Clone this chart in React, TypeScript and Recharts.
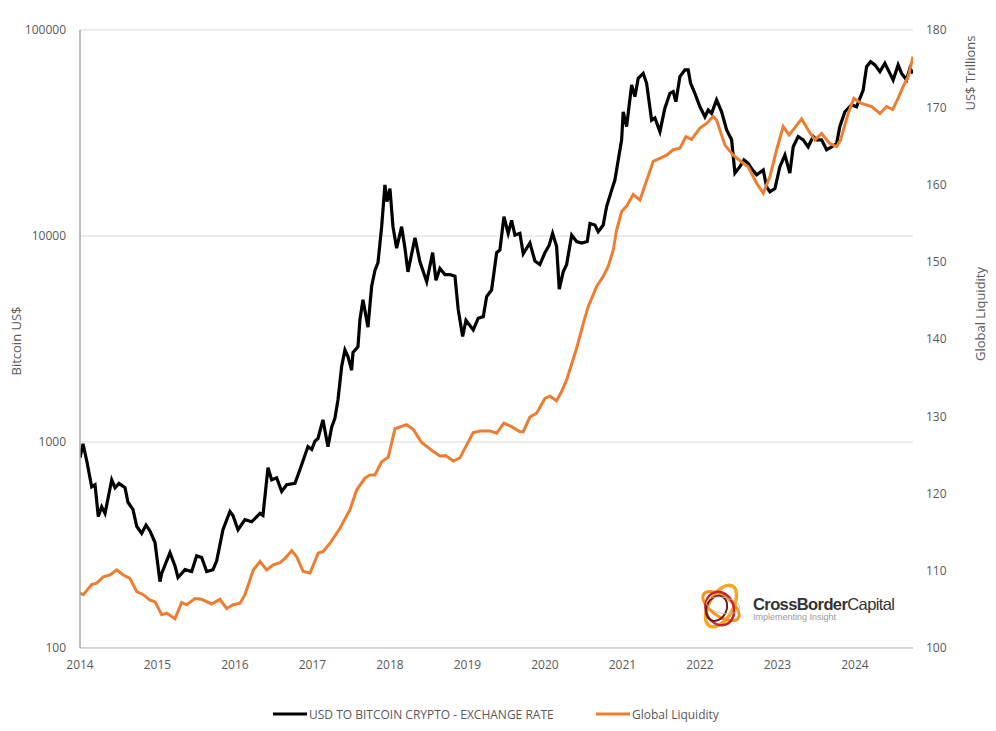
import React from "react";
import { LineChart, Line, XAxis, YAxis, CartesianGrid } from "recharts";

// Bitcoin price (US$) : [year, value]
const btcSeries: [number, number][] = [
  [2014.0, 840], [2014.039, 980], [2014.09, 800], [2014.151, 605], [2014.194, 620], [2014.236, 435],
  [2014.28, 485], [2014.323, 450], [2014.409, 655], [2014.452, 600], [2014.503, 630], [2014.581, 600],
  [2014.619, 510], [2014.684, 470], [2014.732, 390], [2014.796, 360], [2014.852, 395], [2014.903, 370],
  [2014.968, 325], [2015.032, 210], [2015.054, 230], [2015.161, 290], [2015.226, 250], [2015.265, 220],
  [2015.355, 240], [2015.441, 235], [2015.506, 280], [2015.57, 275], [2015.635, 235], [2015.716, 240],
  [2015.764, 265], [2015.845, 375], [2015.935, 460], [2015.974, 440], [2016.039, 375], [2016.129, 420],
  [2016.215, 410], [2016.323, 450], [2016.361, 440], [2016.426, 750], [2016.474, 655], [2016.538, 670],
  [2016.603, 575], [2016.667, 620], [2016.774, 630], [2016.839, 735], [2016.942, 950], [2016.99, 920],
  [2017.032, 1010], [2017.071, 1040], [2017.135, 1280], [2017.2, 950], [2017.248, 1180], [2017.29, 1305],
  [2017.329, 1600], [2017.377, 2330], [2017.419, 2800], [2017.458, 2600], [2017.506, 2230], [2017.523, 2720],
  [2017.587, 2900], [2017.613, 3930], [2017.652, 4900], [2017.716, 3610], [2017.764, 5700], [2017.806, 6800],
  [2017.845, 7400], [2017.893, 11100], [2017.935, 17700], [2017.961, 14700], [2018.0, 17000], [2018.039, 11100],
  [2018.086, 8720], [2018.151, 11100], [2018.194, 8700], [2018.232, 6700], [2018.323, 9800], [2018.387, 7500],
  [2018.474, 6000], [2018.551, 8300], [2018.594, 6100], [2018.645, 6950], [2018.71, 6500], [2018.774, 6500],
  [2018.839, 6380], [2018.881, 4390], [2018.938, 3250], [2018.981, 3900], [2019.075, 3500], [2019.139, 3990],
  [2019.204, 4060], [2019.248, 5080], [2019.312, 5480], [2019.377, 8300], [2019.419, 8550], [2019.471, 12400],
  [2019.526, 10300], [2019.57, 11900], [2019.613, 10100], [2019.677, 10300], [2019.72, 8200], [2019.806, 9250],
  [2019.871, 7560], [2019.935, 7270], [2020.0, 8300], [2020.055, 9020], [2020.099, 10300], [2020.151, 8880],
  [2020.185, 5520], [2020.236, 6700], [2020.28, 7270], [2020.345, 10100], [2020.409, 9400], [2020.474, 9240],
  [2020.546, 9400], [2020.581, 11500], [2020.645, 11300], [2020.688, 10500], [2020.752, 11300], [2020.796, 13900],
  [2020.861, 16700], [2020.903, 18700], [2020.946, 23400], [2020.99, 29300], [2021.01, 40100], [2021.054, 34000],
  [2021.119, 54100], [2021.161, 47500], [2021.204, 58300], [2021.268, 61600], [2021.312, 55100], [2021.377, 36500],
  [2021.419, 37400], [2021.484, 32100], [2021.548, 41700], [2021.613, 49300], [2021.655, 50200], [2021.69, 44900],
  [2021.742, 59400], [2021.806, 64000], [2021.849, 64000], [2021.88, 55100], [2021.935, 49300], [2022.0, 42400],
  [2022.065, 37900], [2022.107, 40900], [2022.151, 39400], [2022.215, 45800], [2022.28, 40100], [2022.345, 32700],
  [2022.409, 29300], [2022.452, 20200], [2022.516, 21700], [2022.568, 23400], [2022.623, 22500], [2022.68, 20900],
  [2022.732, 19800], [2022.817, 20900], [2022.861, 17300], [2022.903, 16400], [2022.968, 17000], [2023.032, 21700],
  [2023.097, 24700], [2023.161, 20200], [2023.204, 27100], [2023.268, 30400], [2023.333, 29300], [2023.397, 27100],
  [2023.462, 30400], [2023.506, 29300], [2023.57, 29300], [2023.635, 26200], [2023.699, 27100], [2023.764, 28100],
  [2023.806, 34000], [2023.871, 40100], [2023.957, 43300], [2024.022, 42400], [2024.107, 51100], [2024.151, 66400],
  [2024.203, 70200], [2024.258, 67700], [2024.323, 62800], [2024.387, 68900], [2024.452, 61600], [2024.494, 57200],
  [2024.558, 67700], [2024.603, 61600], [2024.667, 57200], [2024.71, 65200], [2024.75, 61600],
];

// Global Liquidity (US$ trillions) : [year, value]
const liquiditySeries: [number, number][] = [
  [2014.0, 107.1], [2014.043, 106.9], [2014.151, 108.2], [2014.215, 108.4], [2014.301, 109.2], [2014.387, 109.45],
  [2014.474, 110.1], [2014.559, 109.45], [2014.645, 109.0], [2014.732, 107.3], [2014.817, 106.9], [2014.903, 106.2],
  [2014.968, 106.0], [2015.054, 104.3], [2015.119, 104.5], [2015.226, 103.8], [2015.312, 105.9], [2015.377, 105.6],
  [2015.484, 106.4], [2015.57, 106.3], [2015.699, 105.7], [2015.806, 106.3], [2015.893, 105.1], [2015.978, 105.6],
  [2016.065, 105.8], [2016.129, 106.9], [2016.236, 110.1], [2016.323, 111.2], [2016.409, 110.1], [2016.494, 110.75],
  [2016.581, 111.05], [2016.645, 111.6], [2016.732, 112.6], [2016.796, 111.8], [2016.881, 109.9], [2016.968, 109.7],
  [2017.075, 112.3], [2017.139, 112.5], [2017.226, 113.55], [2017.355, 115.5], [2017.484, 117.9], [2017.57, 120.45],
  [2017.677, 122.0], [2017.742, 122.4], [2017.806, 122.4], [2017.893, 124.1], [2017.978, 124.7], [2018.065, 128.4],
  [2018.215, 128.9], [2018.301, 128.3], [2018.409, 126.6], [2018.538, 125.6], [2018.645, 124.85], [2018.719, 124.9],
  [2018.817, 124.2], [2018.903, 124.6], [2018.99, 126.3], [2019.075, 127.9], [2019.161, 128.1], [2019.29, 128.1],
  [2019.377, 127.8], [2019.471, 129.1], [2019.57, 128.65], [2019.677, 128.0], [2019.72, 128.0], [2019.806, 129.9],
  [2019.893, 130.4], [2020.0, 132.3], [2020.065, 132.6], [2020.151, 132.0], [2020.215, 133.2], [2020.28, 134.7],
  [2020.409, 138.8], [2020.494, 142.0], [2020.559, 144.2], [2020.667, 146.8], [2020.752, 148.1], [2020.817, 149.4],
  [2020.881, 151.5], [2020.925, 154.1], [2020.99, 156.5], [2021.054, 157.2], [2021.139, 158.7], [2021.226, 158.0],
  [2021.398, 163.0], [2021.57, 163.8], [2021.655, 164.5], [2021.742, 164.7], [2021.819, 166.2], [2021.893, 165.85],
  [2022.0, 167.3], [2022.086, 167.9], [2022.172, 168.8], [2022.215, 168.35], [2022.323, 165.1], [2022.43, 163.8],
  [2022.559, 162.75], [2022.623, 162.3], [2022.732, 160.15], [2022.817, 158.9], [2022.903, 161.0], [2022.99, 164.5],
  [2023.075, 167.5], [2023.152, 166.4], [2023.312, 168.5], [2023.397, 167.05], [2023.484, 165.75], [2023.57, 166.6],
  [2023.677, 165.3], [2023.764, 164.9], [2023.815, 165.75], [2023.913, 169.2], [2023.987, 171.15], [2024.086, 170.5],
  [2024.215, 170.1], [2024.323, 169.2], [2024.409, 170.1], [2024.487, 169.7], [2024.558, 171.15], [2024.623, 172.7],
  [2024.688, 173.95], [2024.75, 176.55],
];

const xTicks = [2014, 2015, 2016, 2017, 2018, 2019, 2020, 2021, 2022, 2023, 2024];
const leftTicks = [100, 1000, 10000, 100000];
const rightTicks = [100, 110, 120, 130, 140, 150, 160, 170, 180];
const btcName = "USD TO BITCOIN CRYPTO - EXCHANGE RATE";
const liqName = "Global Liquidity";

type Row = { t: number; btc?: number; liq?: number };
const chartData: Row[] = [
  ...btcSeries.map(([t, v]) => ({ t, btc: v })),
  ...liquiditySeries.map(([t, v]) => ({ t, liq: v })),
].sort((a, b) => a.t - b.t);

const FONT = "'Open Sans', 'Noto Sans', sans-serif";
const TICK = { fill: "#595959", fontSize: 12, fontFamily: FONT };
const W = 980;
const H = 715;

export default function App() {
  return (
    <div style={{ position: "relative", width: W, height: H, fontFamily: FONT }}>
      <LineChart
        width={W}
        height={H}
        data={chartData}
        margin={{ top: 22, right: 15, bottom: 45, left: 12 }}
      >
        <CartesianGrid yAxisId="btc" vertical={false} stroke="#d9d9d9" strokeWidth={1} />
        <XAxis
          dataKey="t"
          type="number"
          domain={[2014, 2024.75]}
          ticks={xTicks}
          allowDataOverflow
          tickLine={false}
          axisLine={{ stroke: "#bfbfbf" }}
          tick={TICK}
          tickMargin={6}
          height={30}
          interval={0}
        />
        <YAxis
          yAxisId="btc"
          scale="log"
          type="number"
          domain={[100, 100000]}
          ticks={leftTicks}
          allowDataOverflow
          tickLine={false}
          axisLine={{ stroke: "#a6a6a6", strokeWidth: 1.5 }}
          tick={TICK}
          tickMargin={8}
          width={60}
          interval={0}
        />
        <YAxis
          yAxisId="liq"
          orientation="right"
          type="number"
          domain={[100, 180]}
          ticks={rightTicks}
          allowDataOverflow
          tickLine={false}
          axisLine={false}
          tick={{ ...TICK, textAnchor: "start" }}
          tickMargin={7}
          width={60}
          interval={0}
        />
        <Line
          yAxisId="btc"
          dataKey="btc"
          name={btcName}
          type="linear"
          stroke="#000000"
          strokeWidth={3.2}
          dot={false}
          connectNulls
          isAnimationActive={false}
        />
        <Line
          yAxisId="liq"
          dataKey="liq"
          name={liqName}
          type="linear"
          stroke="#ED7D31"
          strokeWidth={3}
          dot={false}
          connectNulls
          isAnimationActive={false}
        />
      </LineChart>
      <svg
        width={W}
        height={H}
        style={{ position: "absolute", left: 0, top: 0, pointerEvents: "none" }}
      >
        {/* axis titles */}
        <text x={8} y={333} transform="rotate(-90 8 333)" textAnchor="middle" dominantBaseline="central"
          fontSize={13} fill="#595959" fontFamily={FONT}>Bitcoin US$</text>
        <text x={962} y={65} transform="rotate(-90 962 65)" textAnchor="middle" dominantBaseline="central"
          fontSize={13} fill="#595959" fontFamily={FONT}>US$ Trillions</text>
        <text x={972} y={306} transform="rotate(-90 972 306)" textAnchor="middle" dominantBaseline="central"
          fontSize={13} fill="#595959" fontFamily={FONT}>Global Liquidity</text>

        {/* legend */}
        <line x1={265} y1={706} x2={299} y2={706} stroke="#000" strokeWidth={3} />
        <text x={301} y={706} dominantBaseline="central" fontSize={12} fill="#595959" fontFamily={FONT}>{btcName}</text>
        <line x1={588} y1={706} x2={622} y2={706} stroke="#ED7D31" strokeWidth={3} />
        <text x={624} y={706} dominantBaseline="central" fontSize={12} fill="#595959" fontFamily={FONT}>{liqName}</text>

        {/* logo */}
        <g transform="translate(713 598)">
          <ellipse cx={0} cy={0} rx={23} ry={12} transform="rotate(-60)" fill="none" stroke="#f5a623" strokeWidth={3.5} />
          <ellipse cx={0} cy={0} rx={21} ry={10} transform="rotate(35)" fill="none" stroke="#f7941d" strokeWidth={3} />
          <ellipse cx={-2} cy={2} rx={14} ry={17} transform="rotate(-20)" fill="none" stroke="#c1272d" strokeWidth={2.5} />
          <ellipse cx={-3} cy={4} rx={10} ry={13} transform="rotate(25)" fill="none" stroke="#6d1a1a" strokeWidth={2} />
          <ellipse cx={2} cy={-1} rx={17} ry={8} transform="rotate(10)" fill="none" stroke="#bbbbbb" strokeWidth={0.8} />
        </g>
        <text x={745} y={602} fontSize={16.5} fill="#333333" fontFamily="'Liberation Sans', Arial, sans-serif" letterSpacing={-0.6}>
          <tspan fontWeight="bold">CrossBorder</tspan><tspan>Capital</tspan>
        </text>
        <text x={745} y={612} fontSize={9} fill="#9a9a9a" fontFamily="'Liberation Sans', Arial, sans-serif">Implementing Insight</text>
      </svg>
    </div>
  );
}
